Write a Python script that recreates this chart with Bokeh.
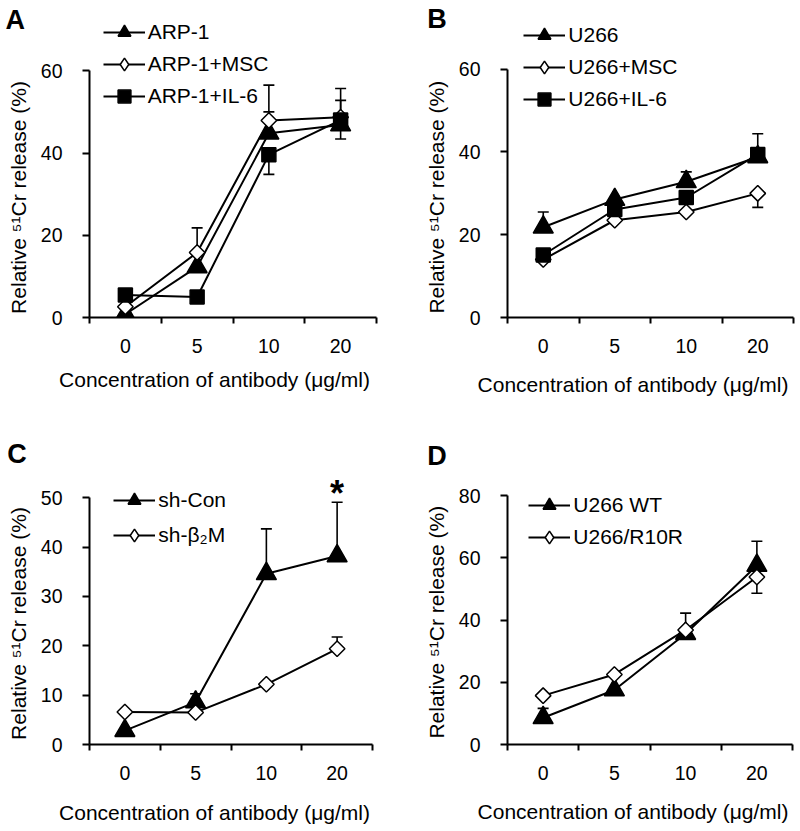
import numpy as np
from bokeh.plotting import figure
from bokeh.models import (ColumnDataSource, FixedTicker, Label, Legend, LegendItem,
                          Whisker, TeeHead, Range1d)
from bokeh.layouts import column, row
from bokeh.embed import file_html
from bokeh.resources import INLINE
from bokeh.core.properties import value

FONT = "Liberation Sans"

# ---------------- data ----------------
conc_labels = ["0", "5", "10", "20"]
x_title = "Concentration of antibody (\u03bcg/ml)"
y_title = "Relative \u2075\u00b9Cr release (%)"

# Panel A (ARP-1)
a_names = ["ARP-1", "ARP-1+MSC", "ARP-1+IL-6"]
a_arp1 = [0.8, 12.3, 44.8, 46.8]
a_arp1_up = [0, 0, 5.2, 0]
a_arp1_dn = [0, 0, 0, 3.4]
a_msc = [2.6, 15.8, 47.9, 48.7]
a_msc_up = [0, 6.0, 8.6, 7.0]
a_msc_dn = [0, 0, 0, 0]
a_il6 = [5.5, 5.0, 39.6, 48.0]
a_il6_up = [0, 0, 0, 4.8]
a_il6_dn = [0, 0, 4.8, 0]
a_yticks = [0, 20, 40, 60]

# Panel B (U266)
b_names = ["U266", "U266+MSC", "U266+IL-6"]
b_u266 = [21.8, 28.5, 32.8, 38.8]
b_u266_up = [3.7, 0, 2.4, 0]
b_u266_dn = [0, 0, 0, 0]
b_msc = [14.0, 23.5, 25.5, 30.0]
b_msc_up = [0, 0, 0, 0]
b_msc_dn = [0, 0, 0, 3.4]
b_il6 = [15.1, 26.1, 29.0, 39.4]
b_il6_up = [0, 0, 0, 5.0]
b_il6_dn = [0, 0, 0, 0]
b_yticks = [0, 20, 40, 60]

# Panel C (sh-Con / sh-b2M)
c_names = ["sh-Con", "sh-\u03b2\u2082M"]
c_con = [2.8, 8.6, 34.6, 38.2]
c_con_up = [0, 1.7, 9.1, 10.9]
c_con_dn = [0, 0, 0, 0]
c_b2m = [6.6, 6.5, 12.2, 19.4]
c_b2m_up = [0, 0, 0, 2.4]
c_b2m_dn = [0, 0, 0, 0]
c_sig = ["", "", "", "*"]
c_yticks = [0, 10, 20, 30, 40, 50]

# Panel D (U266 WT / U266/R10R)
d_names = ["U266 WT", "U266/R10R"]
d_wt = [8.6, 17.5, 35.6, 57.5]
d_wt_up = [3.0, 0, 0, 7.8]
d_wt_dn = [0, 0, 0, 0]
d_r10r = [15.7, 22.5, 36.8, 53.8]
d_r10r_up = [0, 0, 5.4, 0]
d_r10r_dn = [0, 0, 0, 5.2]
d_yticks = [0, 20, 40, 60, 80]

# ---------------- styles ----------------
STY = {
    "tri": dict(marker="triangle", size=20, angle=0.0, fill_color="black", leg=None),
    "dia": dict(marker="square", size=11, angle=np.pi / 4, fill_color="white", leg="diamond"),
    "sq": dict(marker="square", size=14, angle=0.0, fill_color="black", leg=None),
}

SHIFT = 0.42  # baseline correction (em) observed for Label text
LETTER_FS = 27


def panel(geo, yticks, series, letter, leg, ylab, xlab, sig=None):
    fx0, fy0, fw, fh, axl, axr, y0p, ytp, ytv, top_pad, letter_side = geo
    bl = int(round(axl - fx0))
    br = fw - int(round(axr - fx0))
    bb = fh - int(round(y0p - fy0))
    frame_l = fx0 + bl
    frame_b = fy0 + fh - bb
    frame_h = fh - top_pad - bb
    ppu_y = (y0p - ytp) / ytv
    y_end = frame_h / ppu_y

    p = figure(width=fw, height=fh, x_range=Range1d(0, len(conc_labels)),
               y_range=Range1d(0, y_end), output_backend="svg",
               toolbar_location=None, title=None,
               min_border_left=bl, min_border_right=br,
               min_border_top=top_pad, min_border_bottom=bb)
    p.outline_line_color = None
    p.xgrid.visible = False
    p.ygrid.visible = False
    p.background_fill_color = "white"
    p.border_fill_color = "white"

    xs = [i + 0.5 for i in range(len(conc_labels))]
    xa = p.xaxis[0]
    xa.ticker = FixedTicker(ticks=xs, minor_ticks=list(range(len(conc_labels) + 1)))
    xa.major_label_overrides = {x: lab for x, lab in zip(xs, conc_labels)}
    xa.major_tick_out = 0
    xa.major_tick_in = 0
    xa.minor_tick_out = 6
    xa.minor_tick_in = 0
    xa.minor_tick_line_width = 2
    xa.minor_tick_line_color = "black"
    xa.major_label_standoff = 15
    ya = p.yaxis[0]
    ya.ticker = FixedTicker(ticks=yticks, minor_ticks=[])
    ya.bounds = (0, ytv)
    ya.major_tick_out = 7
    ya.major_tick_in = 0
    ya.minor_tick_out = 0
    ya.minor_tick_in = 0
    ya.major_label_standoff = 20
    for ax in (xa, ya):
        ax.axis_line_width = 2
        ax.axis_line_color = "black"
        ax.major_tick_line_width = 2
        ax.major_tick_line_color = "black"
        ax.major_label_text_font = FONT
        ax.major_label_text_font_size = "19.5px"
        ax.major_label_text_color = "black"

    items = []
    for name, ys, up, dn, sty in series:
        st = STY[sty]
        src = ColumnDataSource(dict(x=xs, y=ys))
        lr = p.line("x", "y", source=src, line_color="black", line_width=2)
        mr = p.scatter("x", "y", source=src, marker=st["marker"], size=st["size"],
                       angle=st["angle"], fill_color=st["fill_color"],
                       line_color="black", line_width=1.5)
        if st["leg"] is not None:
            lg = p.scatter(x=[np.nan], y=[np.nan], marker=st["leg"], size=st["size"],
                           fill_color=st["fill_color"], line_color="black", line_width=1.5)
            items.append(LegendItem(label=name, renderers=[lr, lg]))
        else:
            items.append(LegendItem(label=name, renderers=[lr, mr]))
        for errs, sign in ((up, 1), (dn, -1)):
            idx = [i for i, e in enumerate(errs) if e > 0]
            if not idx:
                continue
            esrc = ColumnDataSource(dict(
                base=[xs[i] for i in idx],
                lower=[ys[i] for i in idx] if sign > 0 else [ys[i] - errs[i] for i in idx],
                upper=[ys[i] + errs[i] for i in idx] if sign > 0 else [ys[i] for i in idx]))
            head = TeeHead(size=11, line_width=1.6, line_color="black")
            w = Whisker(source=esrc, base="base", lower="lower", upper="upper",
                        dimension="height", line_color="black", line_width=1.6,
                        upper_head=head if sign > 0 else None,
                        lower_head=head if sign < 0 else None,
                        level="underlay")
            p.add_layout(w)

    if sig is not None:
        ys0, up0 = series[0][1], series[0][2]
        ssrc = ColumnDataSource(dict(x=xs, y=[y + u for y, u in zip(ys0, up0)], t=sig))
        p.text("x", "y", text="t", source=ssrc, text_font=value(FONT),
               text_font_style="bold", text_font_size="36px", text_align="center",
               text_baseline="alphabetic", y_offset=-9, text_color="black")

    row1, pitch, line_left = leg
    gh = 32
    n = len(items)
    leg_bottom = row1 + (n - 1) * pitch + gh / 2
    legend = Legend(items=items, location=(line_left - frame_l, frame_b - leg_bottom),
                    glyph_width=42, glyph_height=gh, spacing=int(round(pitch - gh)),
                    padding=0, margin=0, border_line_color=None,
                    background_fill_alpha=0, label_text_font=FONT,
                    label_text_font_size="21px", label_text_color="black",
                    label_standoff=3, label_height=gh)
    p.add_layout(legend)

    p.add_layout(Label(x=letter[1] - fx0, y=letter[2] - fy0 - SHIFT * LETTER_FS,
                       x_units="canvas", y_units="canvas",
                       text=letter[0], text_font=FONT,
                       text_font_style="bold", text_font_size=f"{LETTER_FS}px",
                       text_align="left", text_baseline="alphabetic", text_color="black"),
                 letter_side)
    p.add_layout(Label(x=ylab[0] - fx0 - SHIFT * 21, y=ylab[1] - fy0,
                       x_units="canvas", y_units="canvas",
                       text=y_title, angle=np.pi / 2,
                       text_font=FONT, text_font_size="21px", text_align="center",
                       text_baseline="alphabetic", text_color="black"), "left")
    p.add_layout(Label(x=xlab[0] - fx0, y=xlab[1] - fy0 - SHIFT * 21,
                       x_units="canvas", y_units="canvas",
                       text=x_title,
                       text_font=FONT, text_font_size="21px", text_align="center",
                       text_baseline="alphabetic", text_color="black"), "below")
    return p


pA = panel((0, 0, 400, 415, 89.3, 375.7, 319.0, 70.7, 60, 4, "below"), a_yticks,
           [(a_names[0], a_arp1, a_arp1_up, a_arp1_dn, "tri"),
            (a_names[1], a_msc, a_msc_up, a_msc_dn, "dia"),
            (a_names[2], a_il6, a_il6_up, a_il6_dn, "sq")],
           ("A", 5, 31), (34.3, 32.0, 102.7), (26.5, 197), (214, 388))
pB = panel((400, 0, 400, 415, 507.3, 793.3, 317.3, 69.0, 60, 4, "below"), b_yticks,
           [(b_names[0], b_u266, b_u266_up, b_u266_dn, "tri"),
            (b_names[1], b_msc, b_msc_up, b_msc_dn, "dia"),
            (b_names[2], b_il6, b_il6_up, b_il6_dn, "sq")],
           ("B", 426.7, 30), (34.3, 32.4, 523.3), (445, 196.7), (632.5, 393))
pC = panel((0, 415, 400, 416, 89.3, 372.3, 744.0, 497.3, 50, 40, "above"), c_yticks,
           [(c_names[0], c_con, c_con_up, c_con_dn, "tri"),
            (c_names[1], c_b2m, c_b2m_up, c_b2m_dn, "dia")],
           ("C", 6.7, 465), (500, 35.0, 113.3), (26.5, 623), (214, 821), sig=c_sig)
pD = panel((400, 415, 400, 416, 507.3, 791.7, 744.0, 495.0, 80, 40, "above"), d_yticks,
           [(d_names[0], d_wt, d_wt_up, d_wt_dn, "tri"),
            (d_names[1], d_r10r, d_r10r_up, d_r10r_dn, "dia")],
           ("D", 426.7, 466.7), (505, 32.3, 528.3), (445, 621.7), (632.5, 820))

layout = column(row(pA, pB), row(pC, pD))
open("out.html", "w").write(file_html(layout, INLINE))
